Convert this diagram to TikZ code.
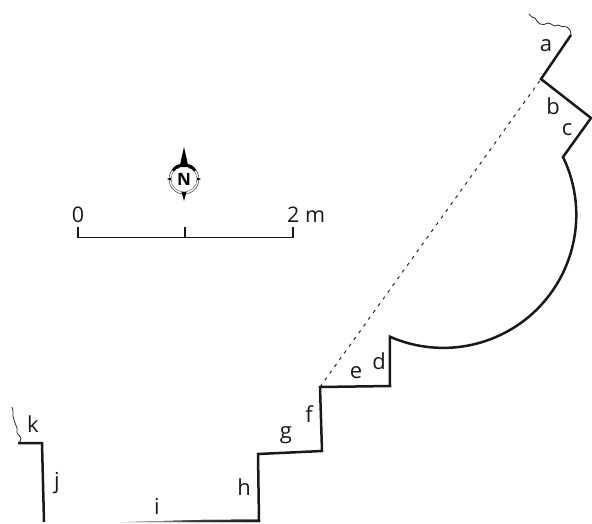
\documentclass[tikz,border=0pt]{standalone}
\usepackage{fontspec}
\setmainfont{Open Sans}
\usetikzlibrary{calc}
\tikzset{
  wall/.style={line width=2.5pt,line join=miter,draw=black!90},
  thin wavy/.style={line width=0.8pt,draw=black!85,line join=round},
  dotline/.style={line width=1pt,draw=black!85,dash pattern=on 3.3pt off 5pt},
  lbl/.style={inner sep=0pt,font=\fontsize{22}{26}\selectfont,text=black!90},
  scalelbl/.style={inner sep=0pt,font=\fontsize{21.5}{26}\selectfont,text=black!90},
  scalebar/.style={line width=1.2pt,draw=black!90}
}
\begin{document}
\begin{tikzpicture}[x=1pt,y=-1pt]
\useasboundingbox (0,0) rectangle (592,523);
% wall
\draw[wall] (571,35) -- (541,79) -- (591,118) -- (563,157)
  arc[start angle=-25.8,end angle=113.7,radius=133]
  -- (390,386) -- (320,387) -- (322,451) -- (258,454) -- (259,521);
\fill[black!90,left color=white,right color=black!90,middle color=black!75] (120,522.2) -- (200,520) -- (260.2,519.5) -- (260.2,522.2) -- cycle;
\draw[wall] (18,443) -- (42,443) -- (44,522);
% dotted chord
\draw[dotline] (320,387) -- (541,79);
% broken ends
\draw[thin wavy] plot[smooth,tension=0.7] coordinates {(571,35) (570,30) (567,27) (562,26.5) (558,25) (555,26) (551,24) (548,23) (544,24.5) (540,24) (537,21) (535,18) (532,17) (529,14)};
\draw[thin wavy] plot[smooth,tension=0.7] coordinates {(19,443) (21,438) (17,433) (17,428) (15,423) (13,416) (13,411) (12,407)};
% labels
\node[lbl] (la) at (546,46) {a};
\node[lbl] (lb) at (553,106) {b};
\node[lbl] (lc) at (567,130) {c};
\node[lbl] (ld) at (379,361) {d};
\node[lbl] (le) at (356,373) {e};
\node[lbl] (lf) at (309,414) {f};
\node[lbl] (lg) at (286,435) {g};
\node[lbl] (lh) at (244,487) {h};
\node[lbl] (li) at (157,506) {i};
\node[lbl] (lj) at (57,483) {j};
\node[lbl] (lk) at (33,424) {k};
% scale
\draw[scalebar] (78,227) -- (78,237.5) -- (293,237.5) -- (293,227);
\draw[scalebar] (185,227) -- (185,237.5);
\node[scalelbl] (zero) at (78,215) {0};
\node[scalelbl,anchor=west] (two) at (287,215) {2 m};
% north arrow
\coordinate (nc) at (184,179);
\draw[line width=0.5pt,draw=black!80] (nc) circle (15);
\draw[line width=0.5pt,draw=black!60] (nc) circle (13);
\fill[black] (184,147) -- (188.5,167) -- (179.5,167) -- cycle;
\fill[black] (184,201) -- (186.5,192) -- (181.5,192) -- cycle;
\fill[black] (167,179) -- (171,177.5) -- (171,180.5) -- cycle;
\fill[black] (201,179) -- (197,177.5) -- (197,180.5) -- cycle;
\fill[black] (172,170) .. controls (174,166) and (177,164.5) .. (180,164) -- (179.5,168) .. controls (177,168) and (175,169.5) .. (174,171.5) -- cycle;
\fill[black] (196,170) .. controls (194,166) and (191,164.5) .. (188,164) -- (188.5,168) .. controls (191,168) and (193,169.5) .. (194,171.5) -- cycle;
\node[inner sep=0pt,font=\fontsize{17}{18}\selectfont\bfseries] (north) at (184,179.5) {N};
\end{tikzpicture}
\end{document}
